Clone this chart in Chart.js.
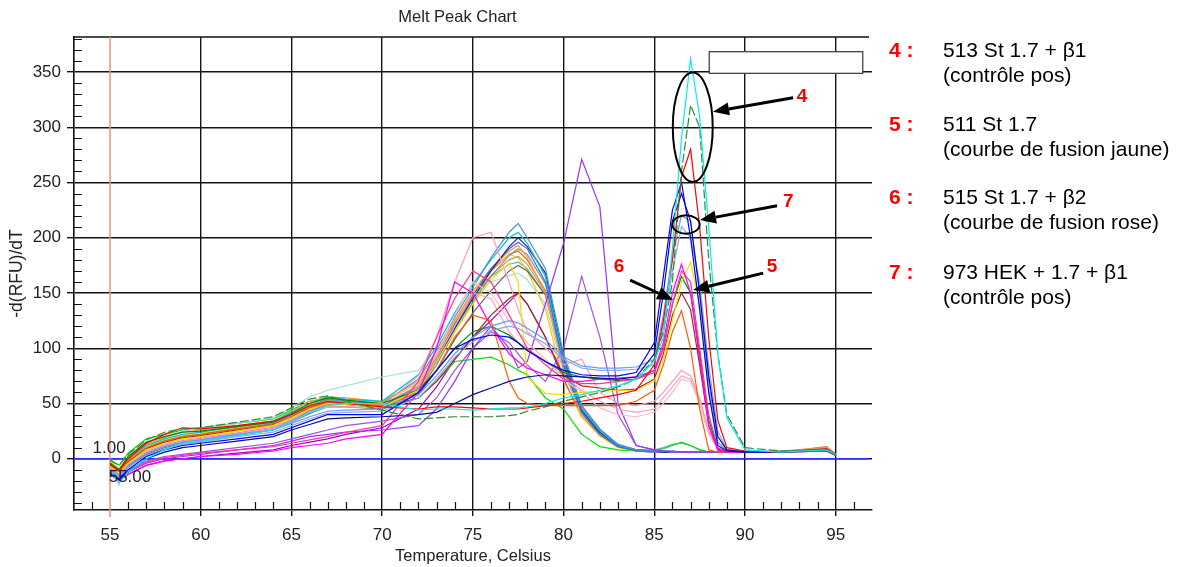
<!DOCTYPE html>
<html>
<head>
<meta charset="utf-8">
<script src="https://cdn.jsdelivr.net/npm/chart.js@4.4.1/dist/chart.umd.min.js"></script>
<style>
  html, body { margin: 0; padding: 0; background: #fff; }
  #wrap { position: relative; width: 1178px; height: 567px; }
</style>
</head>
<body>
<div id="wrap"><canvas id="c" width="1178" height="567"></canvas></div>
<script>
// Temperature grid (°C) shared by every melt curve
const temps = [55, 55.5, 56, 57, 58, 59, 60, 62, 64, 65, 66, 67, 68, 70,
               72, 73, 74, 75, 76, 77, 77.5, 78, 79, 80,
               81, 82, 83, 84, 85, 85.5, 86, 86.5, 87, 87.5, 88, 88.5, 89, 90, 92, 94.5, 95];

const xTicks = [55, 60, 65, 70, 75, 80, 85, 90, 95];
const yTicks = [0, 50, 100, 150, 200, 250, 300, 350];

// -d(RFU)/dT per well — wells with a second melt peak near 87 °C
const cyan362 = [-10, -22, -12, 0, 8, 14, 16, 21, 26, 34, 42, 48, 50, 50,
  44, 45, 45, 44, 45, 46, 46, 47, 50, 55,
  58, 62, 66, 72, 88, 110, 190, 290, 362, 310, 210, 95, 37, 8, 6, 8, 4];
const green320 = [-1, -6, 4, 17, 24, 27, 28, 33, 38, 46, 54, 57, 52, 44,
  36, 37, 38, 38, 38, 39, 40, 43, 47, 52,
  56, 60, 65, 72, 90, 115, 160, 260, 320, 300, 180, 95, 40, 10, 7, 8, 3];
const red282 = [-5, -11, 0, 14, 22, 28, 27, 30, 34, 40, 48, 52, 50, 47,
  45, 47, 47, 46, 45, 45, 45, 46, 48, 50,
  52, 55, 58, 62, 85, 125, 180, 255, 280, 210, 110, 35, 10, 7, 6, 9, 4];
const blue250 = [-12, -18, -10, 2, 8, 12, 14, 18, 22, 28, 34, 40, 40, 40,
  60, 80, 100, 108, 112, 110, 105, 98, 88, 80,
  76, 75, 75, 78, 105, 165, 225, 250, 200, 135, 60, 12, 7, 6, 6, 8, 4];
const navy240 = [-13, -19, -12, 0, 6, 10, 12, 16, 20, 26, 31, 36, 37, 38,
  40, 42, 50, 58, 64, 70, 72, 74, 76, 75,
  74, 73, 72, 74, 95, 150, 215, 240, 215, 150, 75, 20, 8, 6, 6, 8, 4];
const corn220 = [-9, -15, -6, 5, 11, 15, 17, 22, 26, 32, 38, 43, 44, 45,
  58, 75, 95, 110, 120, 125, 123, 118, 108, 92,
  84, 82, 82, 83, 90, 130, 185, 220, 215, 150, 70, 15, 8, 7, 6, 8, 4];
const steel210 = [-11, -16, -8, 3, 9, 13, 15, 20, 24, 30, 36, 41, 42, 43,
  55, 72, 92, 106, 116, 120, 118, 113, 104, 90,
  82, 80, 80, 81, 85, 120, 170, 210, 200, 160, 85, 25, 8, 7, 6, 8, 4];
const magenta176 = [-14, -20, -14, -6, -2, 0, 2, 4, 7, 10, 12, 14, 18, 22,
  60, 100, 160, 150, 120, 95, 88, 82, 76, 70,
  70, 72, 73, 74, 80, 105, 150, 176, 150, 90, 30, 8, 6, 6, 6, 8, 4];
const rose170 = [-13, -19, -12, -3, 1, 3, 5, 8, 11, 14, 17, 20, 24, 30,
  70, 110, 145, 170, 160, 130, 115, 100, 85, 72,
  68, 68, 70, 72, 78, 100, 140, 170, 160, 100, 40, 10, 6, 6, 6, 8, 4];
const yellow178 = [-7, -13, -4, 8, 14, 18, 20, 25, 30, 37, 45, 50, 49, 47,
  62, 88, 115, 140, 162, 177, 160, 74, 59, 58,
  60, 61, 62, 62, 70, 90, 125, 160, 178, 140, 60, 15, 7, 6, 6, 8, 4];
const orange134 = [-6, -12, -2, 10, 16, 20, 22, 27, 31, 38, 46, 51, 50, 48,
  60, 80, 110, 130, 125, 70, 55, 50, 48, 48,
  48, 48, 48, 52, 62, 85, 115, 134, 100, 45, 8, 6, 6, 6, 6, 8, 4];
const green165 = [-4, -10, 2, 15, 20, 24, 25, 29, 33, 41, 50, 55, 53, 50,
  62, 80, 100, 115, 120, 112, 105, 98, 88, 78,
  74, 72, 71, 72, 80, 100, 140, 165, 150, 95, 35, 9, 6, 6, 6, 8, 4];
const darkred150 = [-7, -12, -3, 9, 15, 19, 21, 26, 31, 38, 46, 51, 50, 47,
  55, 70, 90, 110, 130, 145, 150, 140, 110, 75,
  66, 64, 62, 63, 72, 95, 130, 150, 135, 85, 30, 8, 6, 6, 6, 8, 4];
const pink207 = [-9, -14, -5, 6, 12, 16, 18, 23, 28, 35, 44, 50, 50, 48,
  75, 110, 160, 200, 205, 160, 135, 115, 100, 85,
  90, 60, 50, 48, 52, 60, 70, 80, 75, 55, 25, 10, 7, 6, 6, 8, 4];
const palePink = [-8, -13, -4, 7, 13, 17, 19, 24, 29, 36, 45, 50, 50, 48,
  70, 95, 130, 160, 150, 125, 115, 105, 90, 72,
  60, 46, 40, 38, 42, 50, 60, 72, 70, 50, 22, 9, 7, 6, 6, 8, 4];
const softPink = [-10, -15, -6, 5, 11, 15, 17, 22, 27, 33, 42, 47, 47, 46,
  65, 90, 120, 150, 145, 115, 105, 100, 88, 75,
  62, 52, 45, 42, 45, 55, 65, 75, 72, 52, 24, 9, 7, 6, 6, 8, 4];

// Wells with a single melt peak near 77.5 °C
const steel213 = [-6, -12, -2, 10, 16, 20, 22, 27, 32, 40, 48, 54, 52, 50,
  72, 98, 128, 155, 182, 205, 213, 200, 172, 95,
  48, 27, 13, 8, 7, 7, 6, 6, 6, 6, 6, 6, 6, 6, 7, 9, 4];
const sky205 = [-4, -10, 0, 12, 18, 22, 24, 29, 34, 42, 50, 56, 54, 52,
  76, 102, 132, 158, 180, 200, 205, 195, 165, 88,
  45, 25, 12, 8, 7, 7, 7, 6, 6, 6, 6, 6, 6, 6, 6, 8, 4];
const navy200 = [-10, -14, -6, 6, 12, 16, 18, 23, 28, 35, 44, 50, 50, 47,
  62, 88, 118, 145, 170, 192, 200, 192, 168, 90,
  44, 24, 12, 8, 7, 6, 6, 6, 6, 6, 6, 6, 6, 6, 6, 8, 4];
const royal196 = [-8, -13, -4, 7, 13, 17, 19, 24, 29, 36, 45, 51, 50, 48,
  65, 90, 122, 148, 172, 190, 196, 190, 160, 84,
  42, 22, 11, 7, 6, 6, 6, 6, 6, 6, 6, 6, 6, 6, 6, 8, 4];
const orange193 = [-3, -9, 1, 13, 19, 24, 26, 30, 34, 43, 52, 56, 55, 52,
  70, 95, 125, 152, 172, 188, 193, 182, 150, 80,
  40, 22, 11, 8, 7, 7, 6, 6, 6, 6, 6, 6, 6, 6, 7, 10, 4];
const gray190 = [-9, -15, -6, 5, 11, 15, 17, 22, 27, 34, 43, 49, 49, 46,
  60, 85, 115, 142, 165, 184, 190, 185, 158, 92,
  48, 26, 13, 8, 7, 6, 6, 6, 6, 6, 6, 6, 6, 6, 6, 8, 4];
const khaki183 = [-7, -12, -3, 8, 14, 19, 21, 26, 31, 38, 47, 53, 52, 49,
  66, 92, 120, 146, 166, 180, 183, 176, 150, 82,
  42, 23, 11, 8, 7, 6, 6, 6, 6, 6, 6, 6, 6, 6, 6, 8, 4];
const dgray175 = [-11, -16, -7, 4, 10, 14, 16, 21, 26, 33, 41, 47, 47, 45,
  58, 80, 108, 132, 152, 170, 175, 170, 148, 86,
  45, 24, 12, 8, 7, 6, 6, 6, 6, 6, 6, 6, 6, 6, 6, 7, 4];
const gold185 = [-5, -11, -1, 11, 17, 21, 23, 28, 33, 40, 49, 54, 53, 51,
  68, 94, 124, 150, 172, 185, 182, 170, 135, 70,
  38, 20, 10, 7, 6, 6, 6, 6, 6, 6, 6, 6, 6, 6, 6, 8, 4];
const ice168 = [-6, -24, 2, 14, 20, 25, 27, 32, 37, 46, 56, 62, 66, 74,
  80, 100, 125, 148, 160, 166, 168, 162, 140, 78,
  40, 22, 11, 8, 7, 7, 6, 6, 6, 6, 6, 6, 6, 6, 6, 8, 4];
const lime92 = [-2, -6, 5, 18, 22, 26, 28, 32, 36, 44, 52, 54, 50, 45,
  55, 70, 88, 90, 92, 85, 80, 76, 55, 45,
  22, 11, 8, 7, 7, 9, 12, 15, 12, 8, 6, 6, 6, 6, 6, 7, 3];
const violet150 = [-14, -20, -14, -6, -2, 0, 2, 5, 8, 12, 15, 18, 22, 28,
  45, 65, 90, 110, 125, 142, 150, 140, 110, 72,
  38, 22, 11, 7, 6, 6, 6, 6, 6, 6, 6, 6, 6, 6, 6, 7, 3];
const purple271 = [-12, -18, -12, -4, 0, 2, 4, 8, 12, 16, 20, 22, 24, 26,
  30, 45, 70, 100, 120, 100, 82, 88, 140, 195,
  271, 228, 50, 12, 8, 7, 7, 6, 6, 6, 6, 6, 6, 6, 6, 7, 3];
const purple165 = [-10, -16, -10, -2, 2, 4, 6, 10, 14, 18, 22, 26, 30, 34,
  40, 55, 80, 100, 115, 105, 95, 85, 70, 100,
  165, 110, 40, 12, 8, 7, 6, 6, 6, 6, 6, 6, 6, 6, 6, 7, 3];
const teal178 = [-8, -12, -2, 9, 15, 19, 21, 26, 31, 39, 47, 52, 51, 49,
  64, 88, 118, 145, 165, 176, 178, 172, 148, 88,
  46, 25, 12, 8, 8, 10, 13, 14, 12, 8, 6, 6, 6, 6, 6, 9, 4];
const amber188 = [-9, -14, -4, 7, 13, 18, 20, 25, 30, 37, 46, 52, 51, 48,
  63, 89, 120, 148, 170, 185, 188, 180, 152, 84,
  43, 23, 11, 8, 7, 6, 6, 6, 6, 6, 6, 6, 6, 6, 6, 11, 4];

// Side notes for the numbered peaks
const noteKeys = ['4 :', '5 :', '6 :', '7 :'];
const noteLines = [
  ['513 St 1.7 + β1', '(contrôle pos)'],
  ['511 St 1.7', '(courbe de fusion jaune)'],
  ['515 St 1.7 + β2', '(courbe de fusion rose)'],
  ['973 HEK + 1.7 + β1', '(contrôle pos)']
];

// First entries are painted last (on top)
const wells = [
  { values: cyan362, color: '#00EEEE' },
  { values: green320, color: '#2E8B2E', dash: [9, 3] },
  { values: red282, color: '#FF0000' },
  { values: blue250, color: '#0000FF' },
  { values: navy240, color: '#0A0A9A' },
  { values: corn220, color: '#6699FF' },
  { values: steel210, color: '#8AAAE8' },
  { values: magenta176, color: '#FF00FF' },
  { values: rose170, color: '#FF3399' },
  { values: yellow178, color: '#F0E000' },
  { values: orange134, color: '#FF5A00' },
  { values: green165, color: '#008800' },
  { values: darkred150, color: '#B22222' },
  { values: pink207, color: '#FF99BB' },
  { values: palePink, color: '#FFB8C8' },
  { values: softPink, color: '#FFA0B8' },
  { values: purple271, color: '#9933FF' },
  { values: purple165, color: '#A050E0' },
  { values: steel213, color: '#4A90C8' },
  { values: sky205, color: '#00BFE0' },
  { values: navy200, color: '#1F2A80' },
  { values: royal196, color: '#3366FF' },
  { values: orange193, color: '#FF9933' },
  { values: gray190, color: '#8C8C8C' },
  { values: khaki183, color: '#B8A060' },
  { values: dgray175, color: '#666666' },
  { values: gold185, color: '#FFCC00' },
  { values: ice168, color: '#A8DCE8' },
  { values: lime92, color: '#00E000' },
  { values: violet150, color: '#9900CC' },
  { values: teal178, color: '#5FB0B0' },
  { values: amber188, color: '#E07020' }
];

const FONT = '"Liberation Sans", Arial, Helvetica, sans-serif';

const datasets = wells.map((w, i) => ({
  label: 'well ' + (i + 1),
  data: temps.map((t, k) => ({ x: t, y: w.values[k] })),
  borderColor: w.color,
  borderWidth: 1.2,
  borderDash: w.dash || [],
  pointRadius: 0,
  tension: 0,
  fill: false
}));

function arrow(ctx, x1, y1, x2, y2) {
  const ang = Math.atan2(y2 - y1, x2 - x1);
  const len = 16, half = 6.5;
  const bx = x2 - len * Math.cos(ang), by = y2 - len * Math.sin(ang);
  ctx.beginPath();
  ctx.moveTo(x1, y1);
  ctx.lineTo(bx, by);
  ctx.stroke();
  ctx.beginPath();
  ctx.moveTo(x2, y2);
  ctx.lineTo(bx + half * Math.sin(ang), by - half * Math.cos(ang));
  ctx.lineTo(bx - half * Math.sin(ang), by + half * Math.cos(ang));
  ctx.closePath();
  ctx.fill();
}

const decor = {
  id: 'decor',
  beforeDatasetsDraw(chart) {
    const { ctx, chartArea: a, scales: { x, y } } = chart;
    ctx.save();
    // top frame line
    ctx.strokeStyle = '#111';
    ctx.lineWidth = 1.5;
    ctx.beginPath();
    ctx.moveTo(a.left, a.top);
    ctx.lineTo(a.right - 3, a.top);
    ctx.stroke();
    // minor ticks inside the frame
    ctx.lineWidth = 1.2;
    ctx.beginPath();
    for (let v = 54; v <= 96; v++) {
      if (v % 5 === 0) continue;
      const px = Math.round(x.getPixelForValue(v)) + 0.5;
      ctx.moveTo(px, a.bottom);
      ctx.lineTo(px, a.bottom - 8);
    }
    for (let v = -40; v <= 380; v += 10) {
      if (v % 50 === 0) continue;
      const py = Math.round(y.getPixelForValue(v)) + 0.5;
      ctx.moveTo(a.left, py);
      ctx.lineTo(a.left + 8, py);
    }
    ctx.stroke();
    // zero baseline
    const y0 = y.getPixelForValue(0);
    ctx.strokeStyle = '#2B2BFF';
    ctx.lineWidth = 1.5;
    ctx.beginPath();
    ctx.moveTo(a.left, y0);
    ctx.lineTo(a.right - 3, y0);
    ctx.stroke();
    // start temperature marker
    const x55 = x.getPixelForValue(55);
    ctx.strokeStyle = '#F4907E';
    ctx.beginPath();
    ctx.moveTo(x55, a.top);
    ctx.lineTo(x55, a.bottom + 7);
    ctx.stroke();
    ctx.restore();
  },
  afterDatasetsDraw(chart) {
    const { ctx, scales: { x, y } } = chart;
    const X = v => x.getPixelForValue(v), Y = v => y.getPixelForValue(v);
    ctx.save();
    // empty label box
    const bx1 = X(88.03), bx2 = X(96.49), by1 = Y(368.4), by2 = Y(348.8);
    ctx.fillStyle = '#fff';
    ctx.fillRect(bx1, by1, bx2 - bx1, by2 - by1);
    ctx.strokeStyle = '#444';
    ctx.lineWidth = 1.3;
    ctx.strokeRect(bx1, by1, bx2 - bx1, by2 - by1);

    // start markers
    ctx.fillStyle = '#222';
    ctx.font = '17px ' + FONT;
    ctx.textAlign = 'center';
    ctx.textBaseline = 'middle';
    ctx.fillText('1.00', X(54.95), Y(9.7));
    ctx.fillText('55.00', X(56.1), Y(-16.5));

    // circled peaks
    ctx.strokeStyle = '#000';
    ctx.lineWidth = 2;
    ctx.beginPath();
    ctx.ellipse(X(87.12), Y(300), X(87.12 + 1.1) - X(87.12), Y(300) - Y(349.5), 0, 0, Math.PI * 2);
    ctx.stroke();
    ctx.beginPath();
    ctx.ellipse(X(86.75), Y(212), X(86.75 + 0.75) - X(86.75), Y(212) - Y(220.3), 0, 0, Math.PI * 2);
    ctx.stroke();

    // pointer arrows
    ctx.fillStyle = '#000';
    ctx.lineWidth = 3;
    arrow(ctx, X(92.65), Y(326.7), X(88.24), Y(314.1));
    arrow(ctx, X(91.77), Y(229), X(87.52), Y(216));
    arrow(ctx, X(83.67), Y(161.7), X(86.04), Y(143.7));
    arrow(ctx, X(91.0), Y(168), X(87.14), Y(152.7));

    // peak numbers
    ctx.fillStyle = '#FF0000';
    ctx.font = 'bold 19px ' + FONT;
    ctx.fillText('4', X(93.15), Y(327.4));
    ctx.fillText('7', X(92.38), Y(232.3));
    ctx.fillText('6', X(83.06), Y(173.4));
    ctx.fillText('5', X(91.49), Y(173.5));
    ctx.restore();
  },
  afterDraw(chart) {
    const { ctx, chartArea: a } = chart;
    ctx.save();
    ctx.fillStyle = '#222';
    ctx.textAlign = 'center';
    ctx.textBaseline = 'middle';
    ctx.font = '16.5px ' + FONT;
    ctx.fillText('Melt Peak Chart', 457.5, 17);
    ctx.fillText('Temperature, Celsius', (a.left + a.right) / 2, 556);
    ctx.save();
    ctx.translate(17, (a.top + a.bottom) / 2);
    ctx.rotate(-Math.PI / 2);
    ctx.font = '17.5px ' + FONT;
    ctx.fillText('-d(RFU)/dT', 0, 0);
    ctx.restore();

    // numbered notes
    const rows = [51.7, 125, 198.5, 273];
    ctx.textAlign = 'left';
    noteKeys.forEach((k, i) => {
      ctx.fillStyle = '#FF0000';
      ctx.font = 'bold 21px ' + FONT;
      ctx.fillText(k, 889, rows[i]);
      ctx.fillStyle = '#000';
      ctx.font = '21px ' + FONT;
      ctx.fillText(noteLines[i][0], 943, rows[i]);
      ctx.fillText(noteLines[i][1], 943, rows[i] + 25);
    });
    ctx.restore();
  }
};

new Chart(document.getElementById('c'), {
  type: 'line',
  data: { datasets },
  options: {
    responsive: false,
    animation: false,
    devicePixelRatio: 1,
    layout: { padding: { top: 37, right: 306, bottom: 0, left: 0 } },
    plugins: { legend: { display: false }, tooltip: { enabled: false }, title: { display: false } },
    scales: {
      x: {
        type: 'linear',
        min: 53.015,
        max: 97.0,
        afterBuildTicks: s => { s.ticks = xTicks.map(v => ({ value: v })); },
        afterFit: s => { s.height = 57; },
        ticks: { font: { size: 17, family: FONT }, color: '#222', padding: 9, maxRotation: 0, autoSkip: false },
        grid: {
          color: c => (c.tick && c.tick.value === 55 ? 'rgba(0,0,0,0)' : '#141414'),
          lineWidth: 1.4,
          tickLength: 6
        },
        border: { color: '#111', width: 1.6 }
      },
      y: {
        min: -46.4,
        max: 381.7,
        afterBuildTicks: s => { s.ticks = yTicks.map(v => ({ value: v })); },
        afterFit: s => { s.width = 74; },
        ticks: { font: { size: 17, family: FONT }, color: '#222', padding: 6 },
        grid: { color: '#141414', lineWidth: 1.4, tickLength: 7 },
        border: { color: '#111', width: 1.6 }
      }
    }
  },
  plugins: [decor]
});
</script>
</body>
</html>
